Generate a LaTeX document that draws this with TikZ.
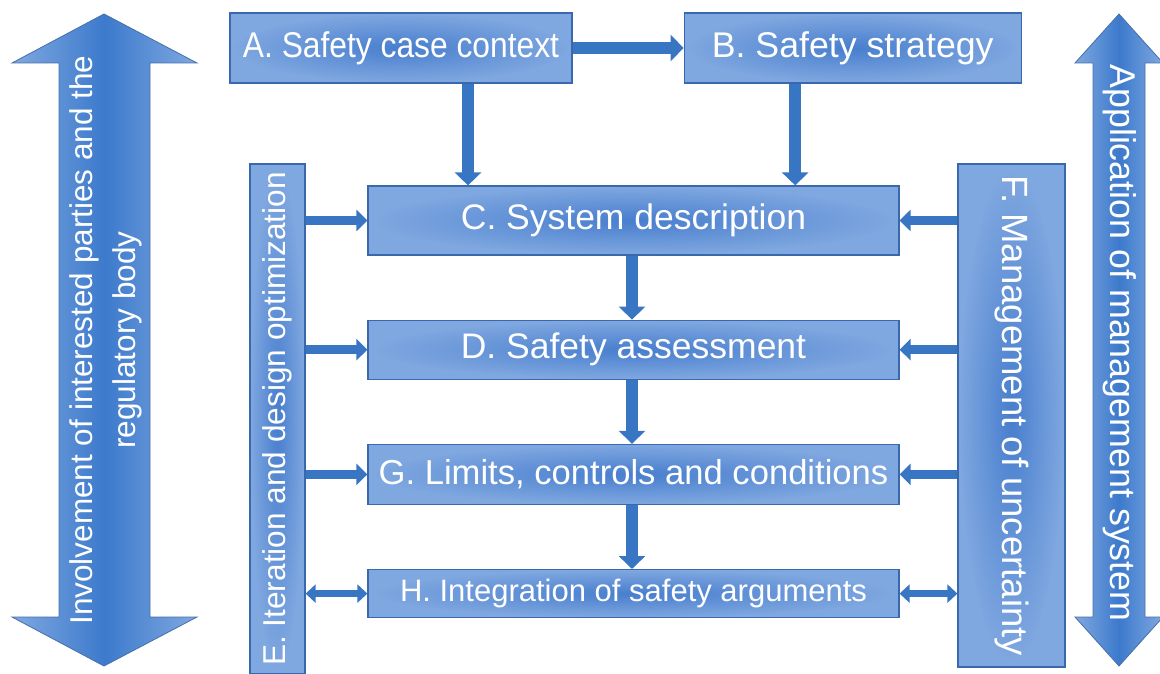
\documentclass[tikz,border=0pt]{standalone}
\usepackage{fontspec}
\setmainfont{Liberation Sans}
\usepackage{tikz}
\usetikzlibrary{positioning}
\usetikzlibrary{calc}
\usetikzlibrary{arrows.meta}

\definecolor{boxdark}{RGB}{72,126,206}
\definecolor{boxlight}{RGB}{128,168,224}
\definecolor{boxline}{RGB}{58,104,172}
\definecolor{linkblue}{RGB}{56,118,195}
\definecolor{arrowdark}{RGB}{60,122,204}
\definecolor{arrowlight}{RGB}{128,168,224}
\definecolor{arrowline}{RGB}{70,110,170}

\tikzset{
	stage/.style={
		draw=boxline, line width=1.2pt,
		inner color=boxdark, outer color=boxlight,
		text=white, inner sep=0pt, minimum width=531pt
	},
	sidebar/.style={
		draw=boxline, line width=1.2pt,
		inner color=boxdark, outer color=boxlight,
		text=white, inner sep=0pt
	},
	bigarrow/.style={
		draw=arrowline, line width=0.8pt,
		left color=arrowlight, right color=arrowlight, middle color=arrowdark
	},
	arrowtext/.style={
		text=white, inner sep=0pt, align=center
	},
	link/.style={
		draw=linkblue, line width=12pt, -{Triangle[length=13pt,width=26pt]}
	},
	sidelink/.style={
		draw=linkblue, line width=9pt, -{Triangle[length=11pt,width=21pt]}
	},
	bothlink/.style={
		draw=linkblue, line width=7pt,
		{Triangle[length=10pt,width=18pt]}-{Triangle[length=10pt,width=18pt]}
	}
}
\newcommand\sz[2]{\fontsize{#1}{#2}\selectfont}

\begin{document}
\begin{tikzpicture}[x=1pt, y=-1pt, node distance=64pt]
	\useasboundingbox (0,0) rectangle (1160,674);

	% outer arrows
	\draw[bigarrow] (104,14) -- (197,63) -- (150,63) -- (150,617) -- (197,617)
		-- (104,666) -- (12,617) -- (59,617) -- (59,63) -- (12,63) -- cycle;
	\node[arrowtext, rotate=90, font=\sz{31.5}{43}] (involve) at (106,340)
		{Involvement of interested parties and the\\regulatory body};

	\draw[bigarrow] (1119,14) -- (1163,63) -- (1145,63) -- (1145,617) -- (1163,617)
		-- (1119,666) -- (1075,617) -- (1093,617) -- (1093,63) -- (1075,63) -- cycle;
	\node[arrowtext, rotate=-90, font=\sz{35.8}{43}] (mgmt) at (1120,343)
		{Application of management system};

	% top row
	\node[sidebar, minimum width=342pt, minimum height=70pt,
		font=\sz{35.7}{42}\addfontfeature{FakeStretch=0.89}]
		(A) at (401,48) {A. Safety case context};
	\node[sidebar, minimum width=337pt, minimum height=70pt, font=\sz{35.7}{42},
		right=111pt of A] (B) {B. Safety strategy};

	% main column
	\node[stage, minimum height=69pt, font=\sz{35.5}{42}] (C) at (633.5,220.5)
		{C. System description};
	\node[stage, minimum height=59pt, font=\sz{35.5}{42}, below=of C] (D)
		{D. Safety assessment};
	\node[stage, minimum height=60pt, font=\sz{34.6}{42}, below=of D] (G)
		{G. Limits, controls and conditions};
	\node[stage, minimum height=48pt, font=\sz{31}{36}, below=of G] (H)
		{H. Integration of safety arguments};

	% side bars
	\node[sidebar, rotate=90, minimum width=510pt, minimum height=55pt,
		font=\sz{31.6}{38}] (E) at (277.5,419) {E. Iteration and design optimization};
	\node[sidebar, rotate=-90, minimum width=503pt, minimum height=107pt,
		font=\sz{36.5}{42}] (F) at (1011.5,415.5) {F. Management of uncertainty};

	% connectors
	\draw[link] (A.east) -- (B.west);
	\draw[link] ([xshift=67pt]A.south) -- ([xshift=67pt]A.south |- C.north);
	\draw[link] ([xshift=-57.5pt]B.south) -- ([xshift=-57.5pt]B.south |- C.north);
	\draw[link] ([xshift=-1.5pt]C.south) -- ([xshift=-1.5pt]D.north);
	\draw[link] ([xshift=-1.5pt]D.south) -- ([xshift=-1.5pt]G.north);
	\draw[link] ([xshift=-1.5pt]G.south) -- ([xshift=-1.5pt]H.north);

	\foreach \b in {C,D,G}{
		\draw[sidelink] (\b.west -| E.south) -- (\b.west);
		\draw[sidelink] (\b.east -| F.south) -- (\b.east);
	}
	\draw[bothlink] (H.west -| E.south) -- (H.west);
	\draw[bothlink] (H.east) -- (H.east -| F.south);
\end{tikzpicture}
\end{document}
